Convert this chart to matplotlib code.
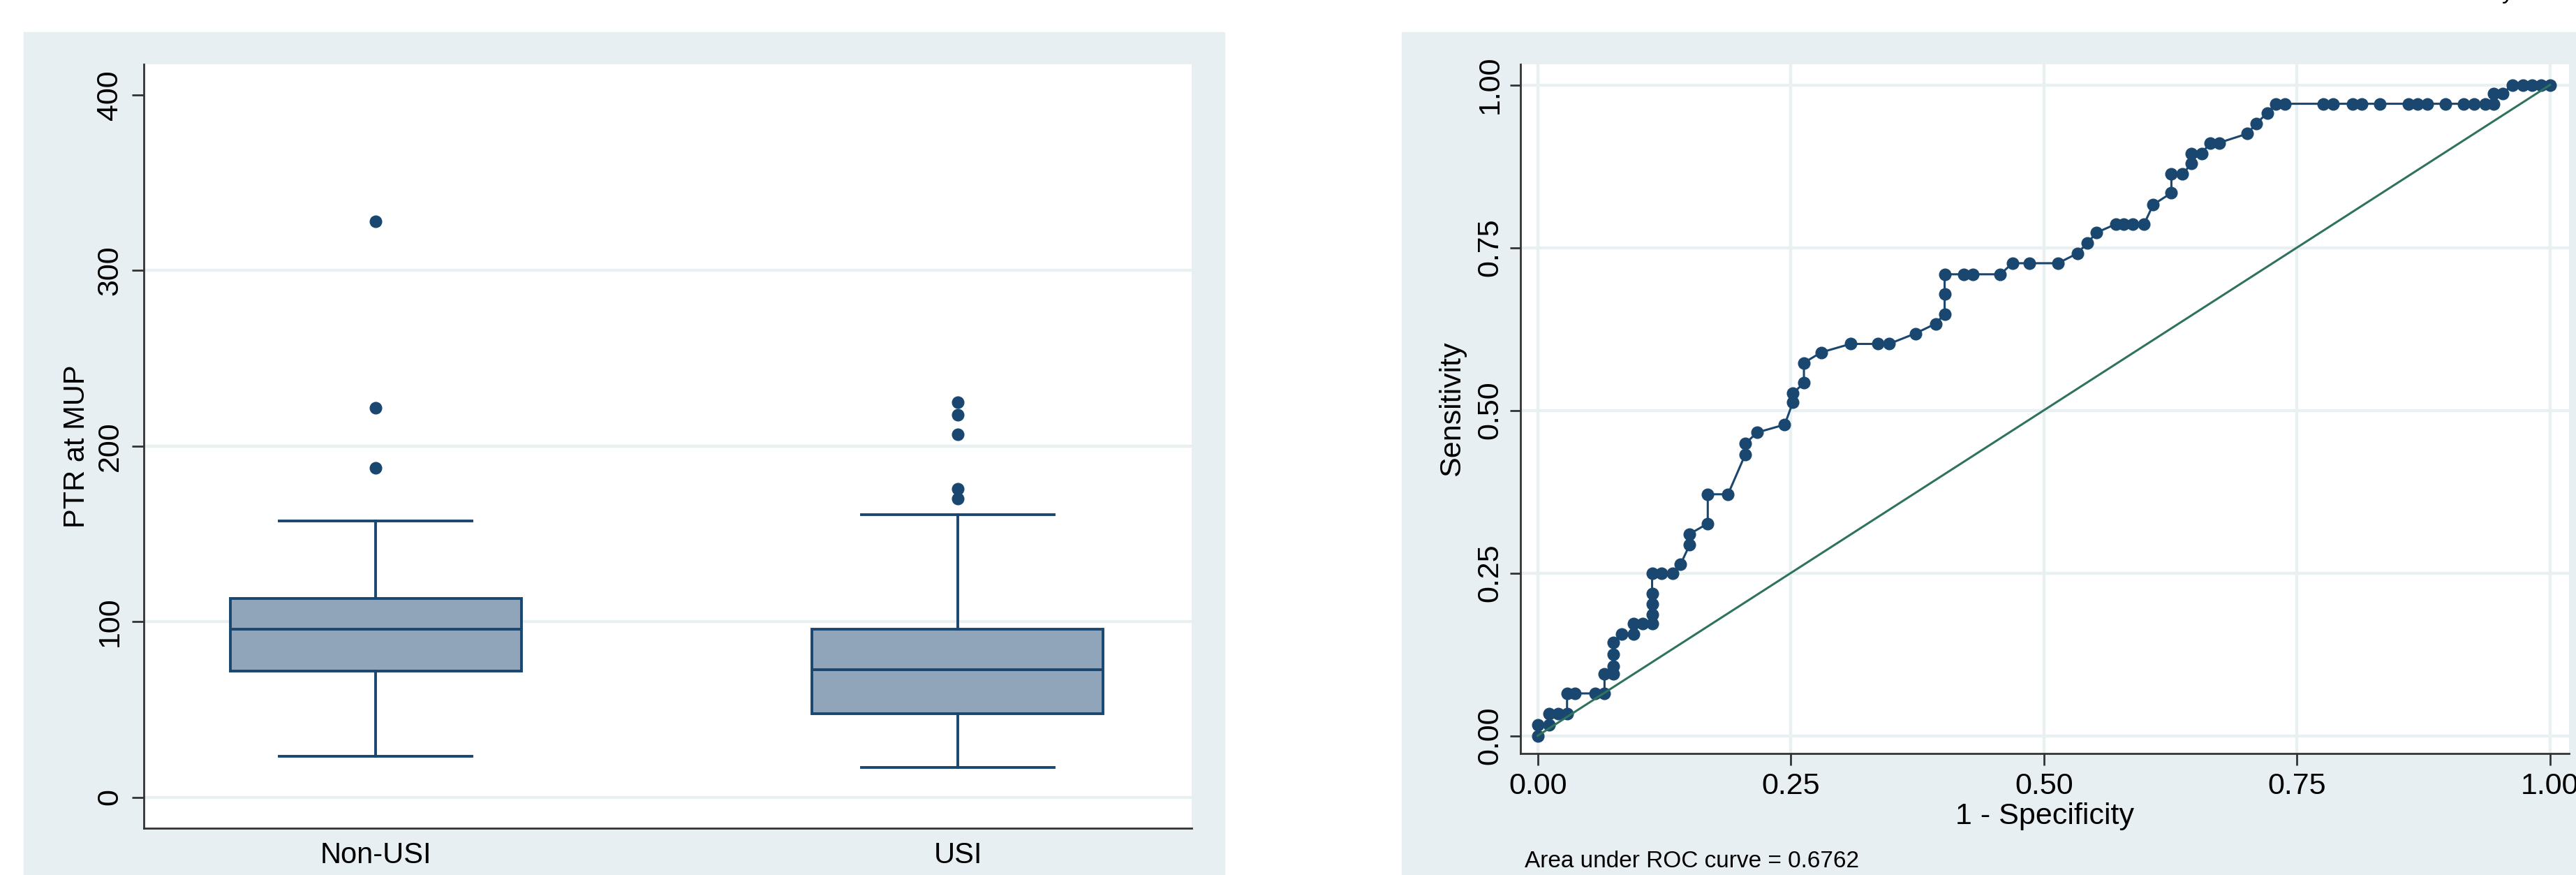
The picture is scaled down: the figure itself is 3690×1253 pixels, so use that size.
import matplotlib
matplotlib.use("Agg")
import matplotlib.pyplot as plt
from matplotlib.patches import Rectangle

plt.rcParams['font.family'] = ['Liberation Sans', 'DejaVu Sans']

# ---- data ----
groups = ['Non-USI', 'USI']
whis_lo = [23.2, 16.9]
q1 = [71.9, 47.4]
medians = [95.7, 72.5]
q3 = [113.2, 95.7]
whis_hi = [157.4, 160.9]
outliers = [[187.6, 221.6, 328.1],
            [170.1, 175.8, 206.7, 217.8, 225.1]]
box_yticks = [0, 100, 200, 300, 400]

fpr = [0.000, 0.000, 0.011, 0.011, 0.020, 0.029, 0.029, 0.037, 0.057, 0.066,
       0.066, 0.075, 0.075, 0.075, 0.075, 0.083, 0.095, 0.095, 0.104, 0.113,
       0.113, 0.113, 0.113, 0.113, 0.122, 0.133, 0.141, 0.150, 0.150, 0.168,
       0.168, 0.188, 0.205, 0.205, 0.217, 0.244, 0.252, 0.252, 0.263, 0.263,
       0.280, 0.309, 0.336, 0.347, 0.373, 0.393, 0.402, 0.402, 0.402, 0.421,
       0.430, 0.457, 0.469, 0.486, 0.514, 0.533, 0.543, 0.552, 0.571, 0.579,
       0.588, 0.599, 0.608, 0.626, 0.626, 0.637, 0.646, 0.646, 0.656, 0.664,
       0.673, 0.701, 0.710, 0.721, 0.729, 0.738, 0.776, 0.786, 0.805, 0.814,
       0.832, 0.860, 0.869, 0.879, 0.897, 0.915, 0.925, 0.936, 0.944, 0.944,
       0.953, 0.963, 0.973, 0.982, 0.991, 1.000]
tpr = [0.000, 0.017, 0.017, 0.034, 0.034, 0.034, 0.065, 0.065, 0.065, 0.065,
       0.095, 0.095, 0.107, 0.125, 0.143, 0.156, 0.156, 0.172, 0.172, 0.172,
       0.186, 0.202, 0.218, 0.249, 0.249, 0.249, 0.263, 0.293, 0.310, 0.326,
       0.371, 0.371, 0.432, 0.449, 0.466, 0.478, 0.512, 0.526, 0.542, 0.573,
       0.589, 0.602, 0.602, 0.602, 0.618, 0.633, 0.648, 0.679, 0.709, 0.709,
       0.709, 0.709, 0.726, 0.726, 0.726, 0.741, 0.757, 0.773, 0.786, 0.786,
       0.786, 0.786, 0.816, 0.834, 0.863, 0.863, 0.879, 0.894, 0.894, 0.911,
       0.911, 0.925, 0.941, 0.957, 0.971, 0.971, 0.971, 0.971, 0.971, 0.971,
       0.971, 0.971, 0.971, 0.971, 0.971, 0.971, 0.971, 0.971, 0.971, 0.987,
       0.987, 1.000, 1.000, 1.000, 1.000, 1.000]
roc_ticks = [0, 0.25, 0.5, 0.75, 1.0]
roc_ticklabels = ['0.00', '0.25', '0.50', '0.75', '1.00']
auc_text = 'Area under ROC curve = 0.6762'

# ---- style ----
navy = '#1a476f'
box_fill = '#90a5ba'
green = '#2f735f'
bg = '#e8eff2'
grid_c = '#e8f0f2'
spine_c = '#333333'

W, H = 3691, 1253
fig = plt.figure(figsize=(W / 100, H / 100), dpi=100)


def fx(px):
    return px / W


def fy(py):
    return 1 - py / H


# panel backgrounds
fig.patches.append(Rectangle((fx(34), 0), fx(1754) - fx(34), fy(46),
                             transform=fig.transFigure, color=bg, zorder=-10))
fig.patches.append(Rectangle((fx(2008), 0), 1 - fx(2008), fy(46),
                             transform=fig.transFigure, color=bg, zorder=-10))

ax1 = fig.add_axes([fx(206), fy(1186), fx(1707) - fx(206), (1186 - 92) / H])
ax2 = fig.add_axes([fx(2177.6), fy(1079), fx(3680) - fx(2177.6), (1079 - 92.3) / H])

for ax in (ax1, ax2):
    ax.set_facecolor('white')
    ax.spines['top'].set_visible(False)
    ax.spines['right'].set_visible(False)
    for s in ('left', 'bottom'):
        ax.spines[s].set_color(spine_c)
        ax.spines[s].set_linewidth(2)
    ax.set_axisbelow(True)

# ---- box plot ----
stats = []
for i, g in enumerate(groups):
    stats.append(dict(label=g, whislo=whis_lo[i], q1=q1[i], med=medians[i],
                      q3=q3[i], whishi=whis_hi[i], fliers=outliers[i]))
lw = 2.8
ax1.bxp(stats, positions=[1, 2], widths=0.5, capwidths=0.33, patch_artist=True,
        boxprops=dict(facecolor=box_fill, edgecolor=navy, linewidth=lw),
        medianprops=dict(color=navy, linewidth=lw),
        whiskerprops=dict(color=navy, linewidth=lw),
        capprops=dict(color=navy, linewidth=lw),
        flierprops=dict(marker='o', markerfacecolor=navy, markeredgecolor=navy,
                        markersize=12))
ax1.set_xlim(0.6018, 2.4018)
ax1.set_ylim(-17.7, 417.5)
ax1.set_yticks(box_yticks)
ax1.yaxis.grid(True, color=grid_c, linewidth=3.2)
ax1.get_ygridlines()[-1].set_visible(False)
ax1.tick_params(axis='y', length=12, width=2, color=spine_c, labelsize=31,
                labelrotation=90, pad=8.6)
for lbl in ax1.get_yticklabels():
    lbl.set_va('center')
ax1.tick_params(axis='x', length=0, labelsize=30, pad=13.7)
ax1.set_ylabel('PTR at MUP', fontsize=30)
ax1.yaxis.set_label_coords(-0.0506, 0.5)

# ---- ROC curve ----
ax2.plot(fpr, tpr, color=navy, linewidth=2.2, marker='o', markersize=12,
         zorder=3)
ax2.plot([0, 1], [0, 1], color=green, linewidth=2.2, zorder=4)
ax2.set_xlim(-0.0173, 1.0188)
ax2.set_ylim(-0.0273, 1.0314)
ax2.set_xticks(roc_ticks)
ax2.set_xticklabels(roc_ticklabels)
ax2.set_yticks(roc_ticks)
ax2.set_yticklabels(roc_ticklabels)
ax2.grid(True, color=grid_c, linewidth=3.2)
ax2.tick_params(axis='x', length=12, width=2, color=spine_c, labelsize=31,
                pad=7.2)
ax2.tick_params(axis='y', length=11, width=2, color=spine_c, labelsize=31,
                labelrotation=90, pad=5.5)
for lbl in ax2.get_yticklabels():
    lbl.set_va('center')
ax2.set_xlabel('1 - Specificity', fontsize=31, va='top')
ax2.xaxis.set_label_coords(0.5, -0.0709)
ax2.set_ylabel('Sensitivity', fontsize=31)
ax2.yaxis.set_label_coords(-0.0516, 0.5)

fig.text(fx(2184), fy(1242), auc_text, fontsize=24, ha='left', va='baseline')
# fragment of text cut off at the top edge
fig.text(fx(3592), fy(-2), 'y', fontsize=24, ha='center', va='baseline')

fig.savefig('out.png', dpi=100)
